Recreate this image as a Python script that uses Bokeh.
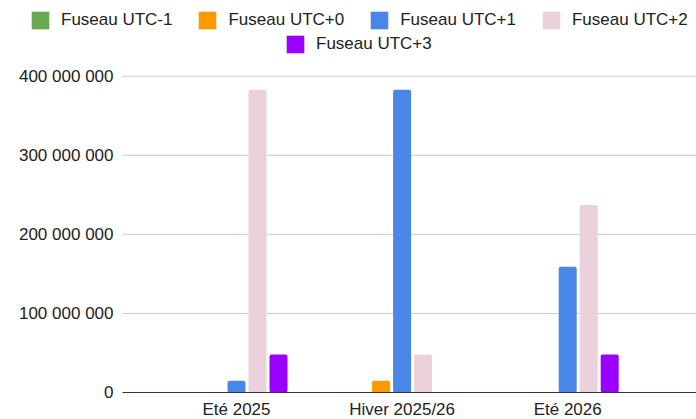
from bokeh.plotting import figure
from bokeh.models import ColumnDataSource, Legend, LegendItem, Range1d
from bokeh.core.properties import value
from bokeh.transform import dodge
from bokeh.embed import file_html
from bokeh.resources import INLINE

# ---- data ----
categories = ["Eté 2025", "Hiver 2025/26", "Eté 2026"]
series_names = ["Fuseau UTC-1", "Fuseau UTC+0", "Fuseau UTC+1", "Fuseau UTC+2", "Fuseau UTC+3"]
utc_m1 = [0, 0, 0]
utc_p0 = [0, 15_000_000, 0]
utc_p1 = [15_000_000, 383_000_000, 159_000_000]
utc_p2 = [383_000_000, 48_000_000, 237_000_000]
utc_p3 = [48_000_000, 0, 48_000_000]
y_tick_values = [0, 100_000_000, 200_000_000, 300_000_000, 400_000_000]
y_tick_labels = ["0", "100 000 000", "200 000 000", "300 000 000", "400 000 000"]

colors = ["#6aa84f", "#ff9900", "#4a86e8", "#ead1dc", "#9900ff"]
FONT = "Liberation Sans"

src = ColumnDataSource(dict(
    x=list(range(len(categories))), cat=categories,
    m1=utc_m1, p0=utc_p0, p1=utc_p1, p2=utc_p2, p3=utc_p3,
))
cols = ["m1", "p0", "p1", "p2", "p3"]

X_START, X_END = -1.4251, 2.7778
Y_START, Y_END = -34_145_000, 495_730_000
GRID_LEFT = -0.6884      # where the plotting area begins (left end of gridlines)
LABEL_RIGHT = -0.7428    # right edge of the value labels
CAT_LABEL_Y = -21_500_000  # vertical position of the category labels

p = figure(width=696, height=419, output_backend="svg", toolbar_location=None,
           x_range=Range1d(X_START, X_END), y_range=Range1d(Y_START, Y_END),
           x_axis_location=None, y_axis_location=None,
           min_border_left=0, min_border_right=0, min_border_top=0, min_border_bottom=0)
p.outline_line_color = None
p.background_fill_color = "white"
p.border_fill_color = "white"
p.grid.visible = False

# horizontal gridlines and value labels (from the tick lists)
grid_src = ColumnDataSource(dict(y=y_tick_values[1:]))
p.segment(x0=GRID_LEFT, x1=X_END, y0="y", y1="y", source=grid_src,
          line_color="#cccccc", line_width=1)
lab_src = ColumnDataSource(dict(y=y_tick_values, lab=y_tick_labels))
p.text(x=LABEL_RIGHT, y="y", text="lab", source=lab_src, text_align="right",
       text_baseline="middle", text_font=value(FONT), text_font_size=value("17px"),
       text_color="#222222")

# bars
pitch = 0.1268
bw = 0.1087
renderers = []
for i, (c, col) in enumerate(zip(cols, colors)):
    r = p.vbar(x=dodge("x", (i - 2) * pitch, range=p.x_range), top=c, width=bw,
               source=src, fill_color=col, line_color=None, border_radius=2)
    renderers.append(r)

# baseline at zero
p.segment(x0=GRID_LEFT, x1=X_END, y0=y_tick_values[0], y1=y_tick_values[0],
          line_color="#333333", line_width=1)

# category labels
p.text(x="x", y=CAT_LABEL_Y, text="cat", source=src, text_align="center",
       text_baseline="middle", text_font=value(FONT), text_font_size=value("17px"),
       text_color="#222222")


def make_legend(items, loc):
    return Legend(items=items, location=loc, orientation="horizontal",
                  glyph_width=22, glyph_height=22, label_standoff=10, spacing=24,
                  padding=0, margin=0, border_line_color=None, background_fill_alpha=0,
                  label_text_font=FONT, label_text_font_size="17px",
                  label_text_color="#222222", label_height=22)


items1 = [LegendItem(label=series_names[i], renderers=[renderers[i]]) for i in range(4)]
items2 = [LegendItem(label=series_names[4], renderers=[renderers[4]])]
# locations in pixels from the bottom-left corner of the (full-size) plotting frame
p.add_layout(make_legend(items1, (29, 388)))
p.add_layout(make_legend(items2, (284, 364)))

open("out.html", "w").write(file_html(p, INLINE))
